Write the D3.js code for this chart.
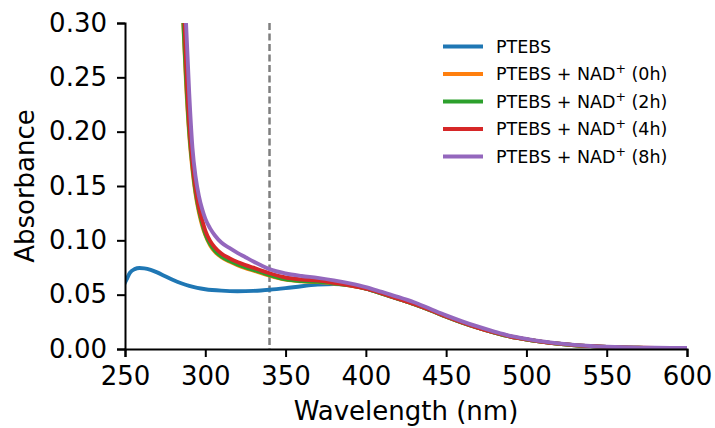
<!DOCTYPE html>
<html>
<head>
<meta charset="utf-8">
<script src="https://cdn.jsdelivr.net/npm/d3@7"></script>
<style>
  body { margin: 0; background: #fff; }
  svg { font-family: 'DejaVu Sans', sans-serif; }
  .ax-tick text { font-size: 26px; fill: #000; }
  .ax-tick line, .ax-tick path { stroke: #000; stroke-width: 2; }
</style>
</head>
<body>
<svg id="chart"></svg>
<script>
// wavelengths (nm) for the PTEBS spectrum
const ptebsWl = [250, 251, 253, 256, 259, 262, 266, 270, 275, 280, 285, 290, 295, 300, 310, 320, 330, 340, 350, 360, 370, 380, 390, 400, 410, 420, 430, 440, 450, 460, 470, 480, 490, 500, 510, 520, 530, 540, 550, 560, 570, 580, 590, 600];
const ptebsAbs = [0.061, 0.064, 0.070, 0.0735, 0.0745, 0.0742, 0.0728, 0.0705, 0.067, 0.0635, 0.0605, 0.058, 0.0562, 0.055, 0.0537, 0.0532, 0.0535, 0.0545, 0.056, 0.0578, 0.0592, 0.0598, 0.0588, 0.0556, 0.051, 0.0462, 0.0413, 0.0358, 0.0298, 0.0243, 0.0194, 0.0151, 0.0114, 0.0087, 0.0065, 0.0048, 0.0035, 0.0026, 0.0019, 0.0014, 0.0011, 0.0009, 0.0008, 0.0008];

// wavelengths (nm) for the PTEBS + NAD+ spectra
const nadWl = [282, 284, 286, 288, 290, 292, 294, 296, 298, 300, 303, 306, 310, 315, 320, 325, 330, 335, 340, 350, 360, 370, 380, 390, 400, 410, 420, 430, 440, 450, 460, 470, 480, 490, 500, 510, 520, 530, 540, 550, 560, 570, 580, 590, 600];
const nad0h = [0.52, 0.40, 0.31, 0.245, 0.197, 0.165, 0.142, 0.126, 0.114, 0.105, 0.0955, 0.0895, 0.0845, 0.0805, 0.0772, 0.0745, 0.0722, 0.0698, 0.0675, 0.0638, 0.0622, 0.0615, 0.0602, 0.0584, 0.0555, 0.051, 0.0462, 0.0413, 0.0358, 0.0298, 0.0243, 0.0194, 0.0151, 0.0114, 0.0087, 0.0065, 0.0048, 0.0035, 0.0026, 0.0019, 0.0014, 0.0011, 0.0009, 0.0008, 0.0008];
const nad2h = [0.53, 0.41, 0.315, 0.25, 0.2, 0.168, 0.144, 0.128, 0.116, 0.106, 0.0965, 0.0905, 0.0852, 0.0812, 0.0779, 0.0752, 0.0728, 0.0704, 0.068, 0.0641, 0.0625, 0.0618, 0.0604, 0.0585, 0.0555, 0.051, 0.0462, 0.0413, 0.0358, 0.0298, 0.0243, 0.0194, 0.0151, 0.0114, 0.0087, 0.0065, 0.0048, 0.0035, 0.0026, 0.0019, 0.0014, 0.0011, 0.0009, 0.0008, 0.0008];
const nad4h = [0.56, 0.44, 0.34, 0.265, 0.208, 0.172, 0.148, 0.131, 0.119, 0.109, 0.0995, 0.0935, 0.0878, 0.0835, 0.0800, 0.0772, 0.0748, 0.0722, 0.0697, 0.0658, 0.0640, 0.0629, 0.061, 0.0586, 0.0555, 0.0512, 0.0463, 0.0415, 0.036, 0.030, 0.0245, 0.0195, 0.0152, 0.0115, 0.0088, 0.0066, 0.0049, 0.0036, 0.0027, 0.002, 0.0015, 0.0012, 0.001, 0.0009, 0.0009];
const nad8h = [0.64, 0.50, 0.39, 0.30, 0.235, 0.185, 0.158, 0.141, 0.129, 0.12, 0.111, 0.1045, 0.098, 0.093, 0.0885, 0.0845, 0.0805, 0.0768, 0.0735, 0.0695, 0.0672, 0.0655, 0.0632, 0.0604, 0.057, 0.0525, 0.048, 0.043, 0.037, 0.031, 0.0255, 0.0205, 0.016, 0.012, 0.0093, 0.007, 0.0052, 0.0038, 0.0028, 0.0021, 0.0016, 0.0013, 0.0011, 0.001, 0.001];

const seriesNames = ['PTEBS', 'PTEBS + NAD', 'PTEBS + NAD', 'PTEBS + NAD', 'PTEBS + NAD'];
const seriesSuffix = ['', '(0h)', '(2h)', '(4h)', '(8h)'];
const colors = ['#1f77b4', '#ff7f0e', '#2ca02c', '#d62728', '#9467bd'];

const xTicks = [250, 300, 350, 400, 450, 500, 550, 600];
const yTicks = [0, 0.05, 0.10, 0.15, 0.20, 0.25, 0.30];
const markerWl = 340;

const width = 715;
const height = 428;
const margin = { top: 23, right: 28, bottom: 79, left: 125 };
const innerW = width - margin.left - margin.right;
const innerH = height - margin.top - margin.bottom;

const series = [
  ptebsWl.map((w, i) => [w, ptebsAbs[i]]),
  nadWl.map((w, i) => [w, nad0h[i]]),
  nadWl.map((w, i) => [w, nad2h[i]]),
  nadWl.map((w, i) => [w, nad4h[i]]),
  nadWl.map((w, i) => [w, nad8h[i]]),
];

const svg = d3.select('#chart')
  .attr('width', width)
  .attr('height', height);

svg.append('defs').append('clipPath')
  .attr('id', 'plot-clip')
  .append('rect')
  .attr('x', 0)
  .attr('y', 0)
  .attr('width', innerW)
  .attr('height', innerH);

const g = svg.append('g')
  .attr('transform', `translate(${margin.left},${margin.top})`);

const x = d3.scaleLinear().domain([250, 600]).range([0, innerW]);
const y = d3.scaleLinear().domain([0, 0.30]).range([innerH, 0]);

// dashed marker
g.append('line')
  .attr('x1', x(markerWl))
  .attr('x2', x(markerWl))
  .attr('y1', 0)
  .attr('y2', innerH)
  .attr('stroke', '#7f7f7f')
  .attr('stroke-width', 2.5)
  .attr('stroke-dasharray', '7,3.5');

const line = d3.line()
  .x((d) => x(d[0]))
  .y((d) => y(d[1]))
  .curve(d3.curveMonotoneX);

g.append('g')
  .attr('clip-path', 'url(#plot-clip)')
  .selectAll('path')
  .data(series)
  .join('path')
  .attr('d', line)
  .attr('fill', 'none')
  .attr('stroke', (d, i) => colors[i])
  .attr('stroke-width', 3.9)
  .attr('stroke-linejoin', 'round')
  .attr('stroke-linecap', 'square');

// axes
const xAxis = g.append('g')
  .attr('class', 'ax-tick')
  .attr('transform', `translate(0,${innerH})`)
  .call(d3.axisBottom(x).tickValues(xTicks).tickSize(8).tickPadding(10).tickFormat(d3.format('d')));
const yAxis = g.append('g')
  .attr('class', 'ax-tick')
  .call(d3.axisLeft(y).tickValues(yTicks).tickSize(8).tickPadding(10).tickFormat(d3.format('.2f')));
[xAxis, yAxis].forEach((a) => {
  a.attr('font-family', null).attr('font-size', null);
  a.select('.domain').attr('stroke-width', 2);
});

// axis labels
svg.append('text')
  .attr('x', margin.left + innerW / 2)
  .attr('y', 420)
  .attr('text-anchor', 'middle')
  .attr('font-size', 26)
  .text('Wavelength (nm)');
svg.append('text')
  .attr('transform', `translate(34,${margin.top + innerH / 2}) rotate(-90)`)
  .attr('text-anchor', 'middle')
  .attr('font-size', 26)
  .text('Absorbance');

// legend
const legend = svg.append('g').attr('transform', 'translate(443,46.5)');
const rows = legend.selectAll('g')
  .data(seriesNames)
  .join('g')
  .attr('transform', (d, i) => `translate(0,${i * 27.5})`);
rows.append('line')
  .attr('x1', 0)
  .attr('x2', 40)
  .attr('stroke', (d, i) => colors[i])
  .attr('stroke-width', 3.9);
const txt = rows.append('text')
  .attr('x', 53)
  .attr('y', 6.4)
  .attr('font-size', 17.5);
txt.append('tspan').text((d) => d);
const withSup = txt.filter((d, i) => i > 0);
withSup.append('tspan')
  .attr('font-size', 12.5)
  .attr('dy', -7)
  .text('+');
withSup.append('tspan')
  .attr('dy', 7)
  .text((d, i) => '\u00a0' + seriesSuffix[i + 1]);
</script>
</body>
</html>
